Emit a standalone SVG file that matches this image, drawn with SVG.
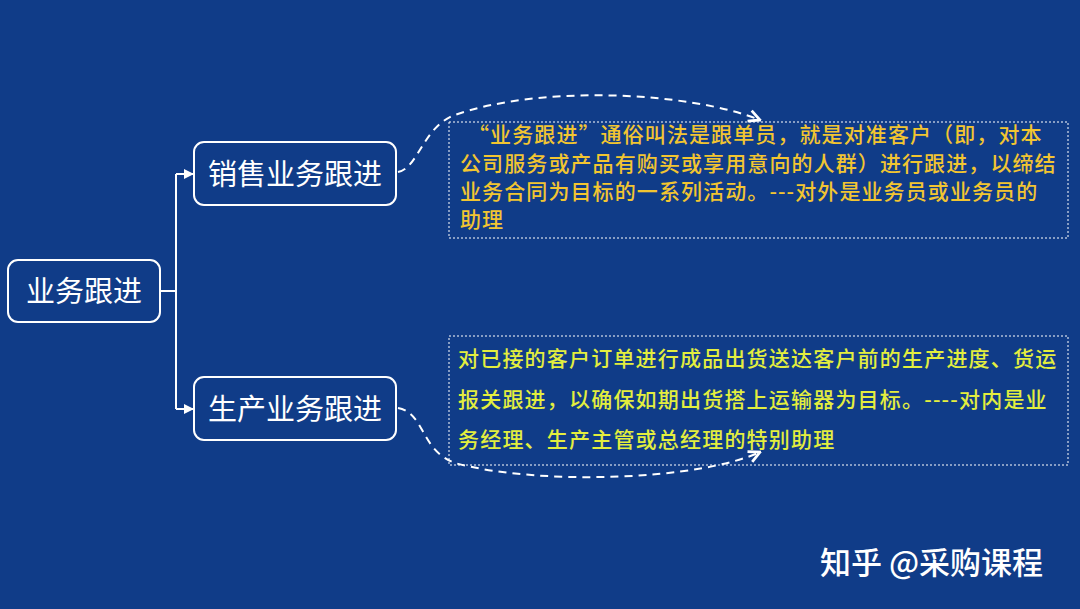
<svg xmlns="http://www.w3.org/2000/svg" width="1080" height="609" viewBox="0 0 1080 609">
<style>
.node{fill:#103c88;stroke:#ffffff;stroke-width:2}
.nt{font-family:"Noto Sans CJK SC","Noto Sans",sans-serif;fill:#ffffff;font-size:29px;text-anchor:middle}
.conn{fill:none;stroke:#ffffff;stroke-width:2}
.curve{fill:none;stroke:#ffffff;stroke-width:2;stroke-dasharray:8 6}
.box{fill:none;stroke:#ffffff;stroke-width:1;stroke-dasharray:2 2}
.t1{font-family:"Noto Sans CJK SC","Noto Sans",sans-serif;fill:#f2c531;font-size:21px;letter-spacing:1.1px;font-weight:500}
.t2{font-family:"Noto Sans CJK SC","Noto Sans",sans-serif;fill:#e3ee3e;font-size:21px;letter-spacing:1.2px;font-weight:500}
.wm{font-family:"Noto Sans CJK SC","Noto Sans",sans-serif;fill:#ffffff;font-size:31px;font-weight:500}
</style>
<defs>
<marker id="ah" viewBox="0 0 10 10" refX="9" refY="5" markerWidth="5" markerHeight="5" orient="auto">
<path d="M0,0 L10,5 L0,10 z" fill="#ffffff"/>
</marker>
<marker id="oa" viewBox="0 0 10 10" refX="9" refY="5" markerWidth="7" markerHeight="7" orient="auto">
<path d="M1,1 L9,5 L1,9" fill="none" stroke="#ffffff" stroke-width="2"/>
</marker>
</defs>
<rect x="0" y="0" width="1080" height="609" fill="#103c88"/>
<g id="connectors">
<path class="conn" d="M161,291 H176 M176,174 V409"/>
<path class="conn" d="M176,174 H193" marker-end="url(#ah)"/>
<path class="conn" d="M176,409 H193" marker-end="url(#ah)"/>
<path class="curve" d="M398,172 C418,168 422,130 452,116 C540,84 690,92 760,120" marker-end="url(#oa)"/>
<path class="curve" d="M398,408 C425,413 420,450 455,463 C540,486 700,480 760,452" marker-end="url(#oa)"/>
</g>
<g id="root">
<rect class="node" x="8" y="260" width="152" height="62" rx="10"/>
<text class="nt" x="84" y="302">业务跟进</text>
</g>
<g id="sales">
<rect class="node" x="194" y="142" width="202" height="63" rx="10"/>
<text class="nt" x="295" y="185">销售业务跟进</text>
</g>
<g id="production">
<rect class="node" x="194" y="377" width="202" height="63" rx="10"/>
<text class="nt" x="295" y="420">生产业务跟进</text>
</g>
<g id="note-sales">
<rect class="box" x="449" y="122" width="619" height="116"/>
<text class="t1" x="468" y="142">“业务跟进”通俗叫法是跟单员，就是对准客户（即，对本</text>
<text class="t1" x="460" y="171">公司服务或产品有购买或享用意向的人群）进行跟进，以缔结</text>
<text class="t1" x="460" y="199">业务合同为目标的一系列活动。---对外是业务员或业务员的</text>
<text class="t1" x="460" y="227">助理</text>
</g>
<g id="note-production">
<rect class="box" x="449" y="336" width="619" height="129"/>
<text class="t2" x="458" y="366">对已接的客户订单进行成品出货送达客户前的生产进度、货运</text>
<text class="t2" x="458" y="407">报关跟进，以确保如期出货搭上运输器为目标。----对内是业</text>
<text class="t2" x="458" y="447">务经理、生产主管或总经理的特别助理</text>
</g>
<text class="wm" x="820" y="574">知乎 @采购课程</text>
</svg>
